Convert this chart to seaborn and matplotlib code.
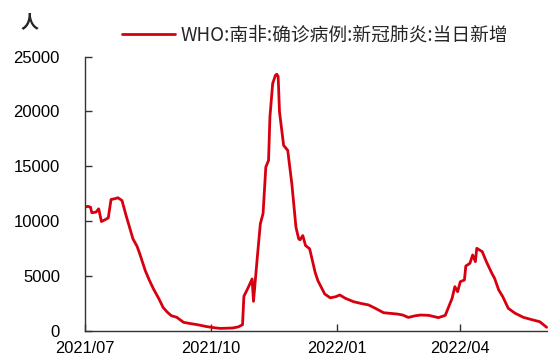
import pandas as pd
import matplotlib
matplotlib.use("Agg")
import matplotlib.pyplot as plt
import matplotlib.dates as mdates
import seaborn as sns

# ------------ data ------------
dates = [
    "2021-07-01", "2021-07-03", "2021-07-05", "2021-07-06", "2021-07-09", "2021-07-11",
    "2021-07-13", "2021-07-16", "2021-07-18", "2021-07-20", "2021-07-23", "2021-07-25",
    "2021-07-28", "2021-07-31", "2021-08-05", "2021-08-08", "2021-08-10", "2021-08-14",
    "2021-08-17", "2021-08-20", "2021-08-24", "2021-08-27", "2021-08-30", "2021-09-02",
    "2021-09-06", "2021-09-11", "2021-09-16", "2021-09-21", "2021-09-28", "2021-10-04",
    "2021-10-08", "2021-10-13", "2021-10-17", "2021-10-21", "2021-10-24", "2021-10-25",
    "2021-10-28", "2021-10-31", "2021-11-01", "2021-11-04", "2021-11-06", "2021-11-08",
    "2021-11-10", "2021-11-12", "2021-11-13", "2021-11-15", "2021-11-17", "2021-11-18",
    "2021-11-19", "2021-11-20", "2021-11-23", "2021-11-26", "2021-11-29", "2021-12-02",
    "2021-12-04", "2021-12-05", "2021-12-07", "2021-12-09", "2021-12-12", "2021-12-16",
    "2021-12-18", "2021-12-23", "2021-12-27", "2021-12-31", "2022-01-03", "2022-01-07",
    "2022-01-13", "2022-01-18", "2022-01-24", "2022-01-29", "2022-02-04", "2022-02-09",
    "2022-02-14", "2022-02-18", "2022-02-22", "2022-02-27", "2022-03-03", "2022-03-09",
    "2022-03-16", "2022-03-21", "2022-03-26", "2022-03-28", "2022-03-30", "2022-04-01",
    "2022-04-04", "2022-04-05", "2022-04-08", "2022-04-10", "2022-04-12", "2022-04-13",
    "2022-04-17", "2022-04-20", "2022-04-24", "2022-04-26", "2022-04-29", "2022-05-02",
    "2022-05-06", "2022-05-11", "2022-05-17", "2022-05-24", "2022-05-29", "2022-06-03",
]
new_cases = [
    11270, 11350, 11270, 10760, 10820, 11120,
    9960, 10150, 10300, 11970, 12050, 12130,
    11880, 10510, 8380, 7700, 7010, 5480,
    4600, 3810, 2900, 2130, 1700, 1370,
    1220, 760, 650, 550, 370, 260,
    210, 230, 250, 350, 550, 3140,
    3900, 4720, 2680, 7000, 9750, 10700,
    14930, 15540, 19500, 22550, 23300, 23400,
    23200, 19960, 16910, 16450, 13400, 9440,
    8380, 8290, 8680, 7770, 7470, 5330,
    4570, 3350, 3000, 3100, 3260, 2960,
    2650, 2500, 2350, 2040, 1640, 1580,
    1520, 1430, 1210, 1360, 1430, 1400,
    1190, 1400, 2960, 4020, 3560, 4470,
    4630, 5900, 6150, 6910, 6300, 7520,
    7210, 6300, 5240, 4780, 3720, 3100,
    2040, 1590, 1220, 980, 820, 310,
]
series_name = "WHO:南非:确诊病例:新冠肺炎:当日新增"
unit_label = "人"
x_ticks = ["2021-07-01", "2021-10-01", "2022-01-01", "2022-04-01"]
y_ticks = [0, 5000, 10000, 15000, 20000, 25000]

df = pd.DataFrame({"date": pd.to_datetime(dates), "value": new_cases})

# ------------ style ------------
sns.set_style("ticks")
plt.rcParams["font.family"] = ["Liberation Sans", "Noto Sans CJK SC", "DejaVu Sans"]
cjk = ["Noto Sans CJK SC", "DejaVu Sans"]

fig = plt.figure(figsize=(5.48, 3.58), dpi=100)
ax = fig.add_axes([85 / 548, 27.3 / 358, 463 / 548, 274 / 358])

sns.lineplot(data=df, x="date", y="value", ax=ax, color="#d7000f",
             linewidth=2.0, label=series_name, legend=False)

ax.set_xlim(pd.Timestamp("2021-07-01"), pd.Timestamp("2022-06-04"))
ax.set_ylim(0, 25000)
ax.set_xticks(pd.to_datetime(x_ticks))
ax.xaxis.set_major_formatter(mdates.DateFormatter("%Y/%m"))
ax.set_yticks(y_ticks)
ax.set_xlabel("")
ax.set_ylabel("")

for s in ["top", "right"]:
    ax.spines[s].set_visible(False)
for s in ["left", "bottom"]:
    ax.spines[s].set_color("#333333")
    ax.spines[s].set_linewidth(1.0)
ax.tick_params(axis="both", direction="in", length=5, width=1, color="#333333",
               labelsize=12, labelcolor="black")
ax.tick_params(axis="y", pad=18)
ax.tick_params(axis="x", pad=7.5, labelsize=11.8)

# legend and unit text
handles, labels = ax.get_legend_handles_labels()
fig.legend(handles, labels, loc="center left", bbox_to_anchor=(122 / 548, 1 - 35 / 358),
           frameon=False, borderpad=0, borderaxespad=0, handlelength=2.8,
           handletextpad=0.3, prop={"family": cjk, "size": 13.5})
fig.text(30 / 548, 1 - 22 / 358, unit_label, ha="center", va="center",
         fontsize=13, family=cjk, fontweight="bold")

fig.savefig("out.png", dpi=100)
